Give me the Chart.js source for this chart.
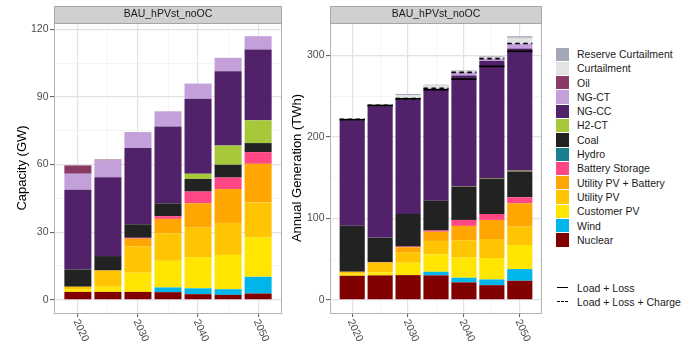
<!DOCTYPE html>
<html>
<head>
<meta charset="utf-8">
<script src="https://cdn.jsdelivr.net/npm/chart.js@4"></script>
<style>
body { margin: 0; background: #fff; width: 693px; height: 343px; overflow: hidden; position: relative;
       font-family: "Liberation Sans", Arial, sans-serif; }
#capCanvas { position: absolute; left: 0; top: 0; }
#genCanvas { position: absolute; left: 283px; top: 0; }
.legend { position: absolute; left: 556px; font-size: 10.5px; color: #1a1a1a; }
.item { position: relative; height: 14.3px; }
.key { position: absolute; left: 0; top: 0.5px; width: 13px; height: 13.3px; }
.lineKey { position: absolute; left: 1px; width: 11px; top: 6.5px; border-top: 1.6px solid #000; }
.lineKey.dashed { border-top-style: dashed; }
.label { position: absolute; left: 21px; top: 0; line-height: 14.3px; white-space: nowrap; }
</style>
</head>
<body>
<canvas id="capCanvas" width="283" height="343"></canvas>
<canvas id="genCanvas" width="260" height="343"></canvas>
<div class="legend" id="techLegend" style="top:47px"></div>
<div class="legend" id="lineLegend" style="top:280.5px"></div>
<script>
const years = [2020, 2025, 2030, 2035, 2040, 2045, 2050];
const yearTicks = [2020, 2030, 2040, 2050];
const capTicks = [0, 30, 60, 90, 120];
const genTicks = [0, 100, 200, 300];
const panelTitle = 'BAU_hPVst_noOC';

// installed capacity, GW
const capNuclear = [3.5, 3.5, 3.5, 3.4, 2.5, 2.2, 2.8];
const capWind = [0, 0, 0, 2.1, 2.6, 2.5, 7.4];
const capCustomerPV = [1.2, 2.3, 8.5, 11.8, 13.8, 15.2, 17.4];
const capUtilityPV = [1.1, 7.2, 11.6, 12.2, 13.1, 14.2, 15.5];
const capUtilityPVBattery = [0, 0, 3.5, 6.4, 10.8, 15.0, 17.2];
const capBattery = [0, 0, 0.4, 1.2, 5.2, 5.1, 5.2];
const capHydro = [0, 0, 0, 0, 0, 0, 0];
const capCoal = [7.7, 6.4, 6.0, 5.7, 5.6, 5.7, 4.0];
const capH2CT = [0, 0, 0, 0, 2.3, 8.5, 10.1];
const capNGCC = [35.3, 35.0, 33.8, 34.1, 33.3, 32.9, 31.4];
const capNGCT = [7.1, 7.4, 7.1, 6.7, 6.7, 6.0, 5.9];
const capOil = [3.7, 0.4, 0, 0, 0, 0, 0];

// annual generation, TWh
const genNuclear = [29.5, 30.0, 30.3, 30.0, 21.4, 18.0, 23.4];
const genWind = [0, 0, 0, 4.4, 5.7, 7.0, 14.3];
const genCustomerPV = [2.5, 3.8, 15.2, 21.3, 25.0, 26.2, 29.5];
const genUtilityPV = [2.4, 12.0, 13.0, 16.6, 21.0, 23.4, 22.6];
const genUtilityPVBattery = [0, 0, 6.0, 11.2, 17.6, 23.4, 28.6];
const genBattery = [0, 0.3, 0.8, 1.5, 7.3, 7.3, 7.4];
const genHydro = [0, 0, 0, 0, 0, 0, 0];
const genCoal = [56.6, 30.3, 40.1, 36.6, 41.0, 43.2, 31.7];
const genH2CT = [0, 0, 0, 0, 0.3, 0.5, 1.0];
const genNGCC = [129.2, 161.2, 140.4, 135.9, 136.0, 144.0, 150.0];
const genNGCT = [0.8, 0.7, 1.0, 2.0, 3.9, 3.0, 6.0];
const genOil = [0.5, 0.2, 0, 0, 0, 0, 0];
const genCurtailment = [0, 0.6, 4.5, 3.5, 1.2, 1.5, 7.0];
const genReserveCurtailment = [0.3, 0.5, 1.3, 1.0, 1.0, 1.3, 2.0];

const loadLoss = [221.0, 238.3, 246.6, 257.8, 270.8, 286.5, 305.0];
const loadLossCharge = [221.3, 238.6, 247.0, 259.6, 279.2, 296.0, 314.5];

// bottom of the stack first
const techs = [
    { label: 'Nuclear', color: '#800000', gw: capNuclear, twh: genNuclear },
    { label: 'Wind', color: '#00B5EA', gw: capWind, twh: genWind },
    { label: 'Customer PV', color: '#FFE500', gw: capCustomerPV, twh: genCustomerPV },
    { label: 'Utility PV', color: '#FFC502', gw: capUtilityPV, twh: genUtilityPV },
    { label: 'Utility PV + Battery', color: '#FFA602', gw: capUtilityPVBattery, twh: genUtilityPVBattery },
    { label: 'Battery Storage', color: '#FF4785', gw: capBattery, twh: genBattery },
    { label: 'Hydro', color: '#1B7F8F', gw: capHydro, twh: genHydro },
    { label: 'Coal', color: '#222222', gw: capCoal, twh: genCoal },
    { label: 'H2-CT', color: '#A8C83B', gw: capH2CT, twh: genH2CT },
    { label: 'NG-CC', color: '#512169', gw: capNGCC, twh: genNGCC },
    { label: 'NG-CT', color: '#C3A0DA', gw: capNGCT, twh: genNGCT },
    { label: 'Oil', color: '#8A3A64', gw: capOil, twh: genOil },
    { label: 'Curtailment', color: '#E3E3E3', gw: null, twh: genCurtailment },
    { label: 'Reserve Curtailment', color: '#A3A7B8', gw: null, twh: genReserveCurtailment }
];

const FONT = '"Liberation Sans", Arial, sans-serif';

function withMinor(major) {
    const out = [];
    major.forEach((v, i) => {
        if (i > 0) out.push((major[i - 1] + v) / 2);
        out.push(v);
    });
    return out;
}

function toPoints(arr) {
    return years.map((x, i) => ({ x: x, y: arr[i] }));
}

// strip header, panel border, rotated year labels, load markers
const facetPlugin = {
    id: 'facet',
    afterDatasetsDraw(chart) {
        const ctx = chart.ctx;
        const barMeta = chart.getDatasetMeta(0);
        chart.data.datasets.forEach((ds, di) => {
            if (!ds.loadMark) return;
            const meta = chart.getDatasetMeta(di);
            ctx.save();
            ctx.strokeStyle = '#000';
            ctx.lineWidth = 1.7;
            ctx.setLineDash(ds.loadMark === 'dashed' ? [4.5, 3.5] : []);
            meta.data.forEach((pt, i) => {
                const w = barMeta.data[i].width;
                ctx.beginPath();
                ctx.moveTo(pt.x - w / 2, pt.y);
                ctx.lineTo(pt.x + w / 2, pt.y);
                ctx.stroke();
            });
            ctx.restore();
        });
    },
    afterDraw(chart) {
        const ctx = chart.ctx;
        const a = chart.chartArea;
        ctx.save();
        // panel border
        ctx.strokeStyle = '#B3B3B3';
        ctx.lineWidth = 1;
        ctx.strokeRect(a.left + 0.5, a.top + 0.5, a.right - a.left - 1, a.bottom - a.top);
        // strip
        ctx.fillStyle = '#D0D0D0';
        ctx.fillRect(a.left, a.top - 17, a.right - a.left, 17);
        ctx.strokeStyle = '#A6A6A6';
        ctx.strokeRect(a.left + 0.5, a.top - 16.5, a.right - a.left - 1, 17);
        ctx.fillStyle = '#1A1A1A';
        ctx.font = '10.5px ' + FONT;
        ctx.textAlign = 'center';
        ctx.textBaseline = 'middle';
        ctx.fillText(panelTitle, (a.left + a.right) / 2, a.top - 8.5);
        // rotated year labels
        const xs = chart.scales.x;
        ctx.fillStyle = '#4D4D4D';
        ctx.textAlign = 'left';
        yearTicks.forEach(yr => {
            ctx.save();
            ctx.translate(xs.getPixelForValue(yr) - 2, a.bottom + 7);
            ctx.rotate(65 * Math.PI / 180);
            ctx.fillText(String(yr), 0, 0);
            ctx.restore();
        });
        ctx.restore();
    }
};

function makeChart(id, key, ticks, title, titlePad, axisWidth, lines) {
    const series = techs.filter(t => t[key]);
    const totals = years.map((_, i) => series.reduce((s, t) => s + t[key][i], 0));
    const top = Math.max(...totals, ...lines.flatMap(l => l.values));
    const pad = top * 0.05;
    const span = years[years.length - 1] - years[0] + 4.5;
    const xPad = span * 0.05;

    const datasets = series.map(t => ({
        type: 'bar',
        label: t.label,
        data: toPoints(t[key]),
        backgroundColor: t.color,
        borderWidth: 0,
        categoryPercentage: 1,
        barPercentage: 0.9
    }));
    lines.forEach(l => datasets.push({
        type: 'line',
        label: l.label,
        data: toPoints(l.values),
        stack: l.label,
        showLine: false,
        pointRadius: 0,
        loadMark: l.style
    }));

    const majorY = v => ticks.includes(v);
    const majorX = v => yearTicks.includes(v);

    return new Chart(document.getElementById(id), {
        data: { datasets: datasets },
        options: {
            responsive: false,
            animation: false,
            layout: { padding: { top: 23, right: 1, left: 0, bottom: 0 } },
            plugins: { legend: { display: false }, tooltip: { enabled: false } },
            scales: {
                x: {
                    type: 'linear',
                    stacked: true,
                    offset: false,
                    min: years[0] - 2.25 - xPad,
                    max: years[years.length - 1] + 2.25 + xPad,
                    afterBuildTicks: s => { s.ticks = withMinor(yearTicks).map(v => ({ value: v })); },
                    afterFit: s => { s.height = 30; },
                    ticks: { display: false },
                    grid: {
                        offset: false,
                        color: c => majorX(c.tick.value) ? '#E2E2E2' : '#EFEFEF',
                        lineWidth: c => majorX(c.tick.value) ? 1.2 : 0.7,
                        tickColor: c => majorX(c.tick.value) ? '#555' : 'rgba(0,0,0,0)',
                        tickLength: 4,
                        tickWidth: 1
                    },
                    border: { display: false }
                },
                y: {
                    stacked: true,
                    min: -pad,
                    max: top + pad,
                    afterBuildTicks: s => { s.ticks = withMinor(ticks).map(v => ({ value: v })); },
                    afterFit: s => { s.width = axisWidth; },
                    ticks: {
                        autoSkip: false,
                        padding: 1.5,
                        color: '#4D4D4D',
                        font: { size: 10.5, family: FONT },
                        callback: v => majorY(v) ? String(v) : ''
                    },
                    grid: {
                        color: c => majorY(c.tick.value) ? '#E2E2E2' : '#EFEFEF',
                        lineWidth: c => majorY(c.tick.value) ? 1.2 : 0.7,
                        tickColor: c => majorY(c.tick.value) ? '#555' : 'rgba(0,0,0,0)',
                        tickLength: 4,
                        tickWidth: 1
                    },
                    border: { display: false },
                    title: {
                        display: true,
                        text: title,
                        color: '#000',
                        font: { size: 13, family: FONT },
                        padding: { top: titlePad, bottom: 0 }
                    }
                }
            }
        },
        plugins: [facetPlugin]
    });
}

makeChart('capCanvas', 'gw', capTicks, 'Capacity (GW)', 14.7, 54, []);
makeChart('genCanvas', 'twh', genTicks, 'Annual Generation (TWh)', 6.7, 47, [
    { label: 'Load + Loss', values: loadLoss, style: 'solid' },
    { label: 'Load + Loss + Charge', values: loadLossCharge, style: 'dashed' }
]);

// legends, top of the stack first
const techLegend = document.getElementById('techLegend');
techs.slice().reverse().forEach(t => {
    const row = document.createElement('div');
    row.className = 'item';
    row.innerHTML = '<div class="key" style="background:' + t.color + '"></div><div class="label">' + t.label + '</div>';
    techLegend.appendChild(row);
});
const lineLegend = document.getElementById('lineLegend');
[['Load + Loss', ''], ['Load + Loss + Charge', ' dashed']].forEach(([label, cls]) => {
    const row = document.createElement('div');
    row.className = 'item';
    row.innerHTML = '<div class="lineKey' + cls + '"></div><div class="label">' + label + '</div>';
    lineLegend.appendChild(row);
});
</script>
</body>
</html>
